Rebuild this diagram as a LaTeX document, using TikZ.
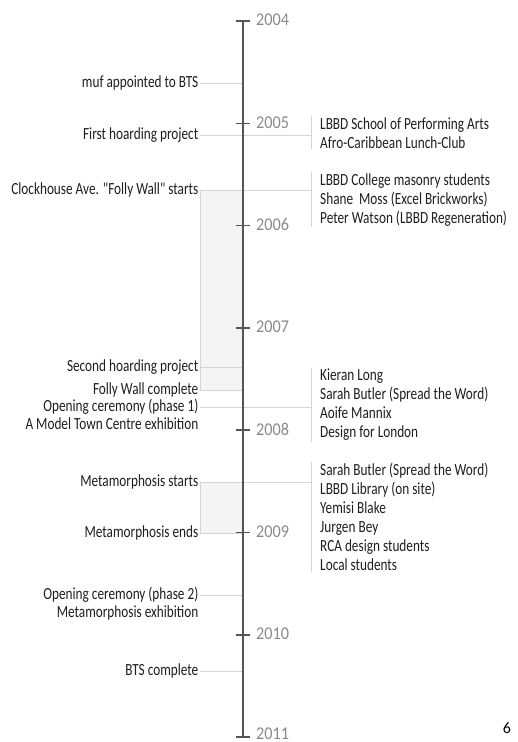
\documentclass[tikz,border=0pt]{standalone}
\usepackage{fontspec}
\setmainfont{Carlito}
\newfontfamily\narrowfont[FakeStretch=0.78]{Carlito}
\newfontfamily\yearfont[FakeStretch=0.9]{Carlito}
\usepackage{tikz}
\usetikzlibrary{positioning}
\definecolor{axisgrey}{HTML}{555555}
\definecolor{yeargrey}{HTML}{8a8a8a}
\definecolor{linkgrey}{HTML}{d4d4d4}
\definecolor{shadegrey}{HTML}{f4f4f4}
\definecolor{textgrey}{HTML}{1e1e1e}
\tikzstyle{evblock} = [anchor=east, inner sep=1.5pt, text=textgrey, 
text height=11pt, text depth=3pt, font=\narrowfont\fontsize{17}{19}\selectfont]
\tikzstyle{grblock} = [anchor=north west, align=left, inner sep=1pt, text=textgrey, 
font=\narrowfont\fontsize{17}{19}\selectfont]
\tikzstyle{yrblock} = [inner sep=0pt, yshift=1pt, text=yeargrey, font=\yearfont\fontsize{18}{20}\selectfont]
\tikzstyle{link} = [draw=linkgrey, line width=1pt]
\tikzstyle{shade} = [fill=shadegrey, draw=linkgrey, line width=1pt]
\tikzstyle{axis} = [draw=axisgrey, line width=1.6pt]

\begin{document}
\begin{tikzpicture}[x=1pt, y=-1pt, node distance=13pt]
                \useasboundingbox (0,0) rectangle (517,742);
                % events (left)
                \node (e1) [evblock] at (200,83) {muf appointed to BTS};
                \node (e2) [evblock] at (200,135) {First hoarding project};
                \node (e3) [evblock] at (200,190) {Clockhouse Ave. "Folly Wall" starts};
                \node (e4) [evblock] at (200,367) {Second hoarding project};
                \node (e5) [evblock] at (200,390) {Folly Wall complete};
                \node (e6) [evblock] at (200,407) {Opening ceremony (phase 1)};
                \node (e7) [evblock] at (200,425) {A Model Town Centre exhibition};
                \node (e8) [evblock] at (200,482) {Metamorphosis starts};
                \node (e9) [evblock] at (200,533) {Metamorphosis ends};
                \node (e10) [evblock] at (200,595) {Opening ceremony (phase 2)};
                \node (e11) [evblock] at (200,613) {Metamorphosis exhibition};
                \node (e12) [evblock] at (200,671) {BTS complete};
                % people (right)
                \node (g1) [grblock] at (319,116) {LBBD School of Performing Arts\\Afro-Caribbean Lunch-Club};
                \node (g2) [grblock] at (319,172) {LBBD College masonry students\\Shane\ \ Moss (Excel Brickworks)\\Peter Watson (LBBD Regeneration)};
                \node (g3) [grblock] at (319,368) {Kieran Long\\Sarah Butler (Spread the Word)\\Aoife Mannix\\Design for London};
                \node (g4) [grblock] at (319,462) {Sarah Butler (Spread the Word)\\LBBD Library (on site)\\Yemisi Blake\\Jurgen Bey\\RCA design students\\Local students};
                \foreach \g in {1,...,4}
                        \coordinate (b\g) at ([xshift=-8pt]g\g.north west);
                % axis and years
                \foreach \yr [count=\i from 0] in {2004,...,2011}
                        \coordinate (t\yr) at (243,21+\i*102.3);
                \draw[shade] (e3.east) rectangle (e5.east -| t2004);
                \draw[shade] (e8.east) rectangle (e9.east -| t2004);
                \foreach \n in {1,4,5,9,10,12}
                        \draw[link] (e\n.east) -- (e\n.east -| t2004);
                \draw[link] (e2.east) -- (e2.east -| b1);
                \draw[link] (e3.east) -- (e3.east -| b2);
                \draw[link] (e6.east) -- (e6.east -| b3);
                \draw[link] (e8.east) -- (e8.east -| b4);
                \foreach \g in {1,...,4}
                        \draw[link] (b\g) -- (b\g |- g\g.south);
                \draw[axis] (t2004) -- (t2011);
                \foreach \yr in {2004,...,2011}
                        \draw[axis] ([xshift=-7pt]t\yr) -- ([xshift=7pt]t\yr);
                \foreach \yr in {2004,...,2010}
                        \node (y\yr) [yrblock, right=of t\yr] {\yr};
                \node (y2011) [yrblock, right=of t2011, yshift=2.5pt] {2011};
                \node (page) [font=\fontsize{16}{18}\selectfont] at (507,728) {6};
        \end{tikzpicture}
\end{document}
